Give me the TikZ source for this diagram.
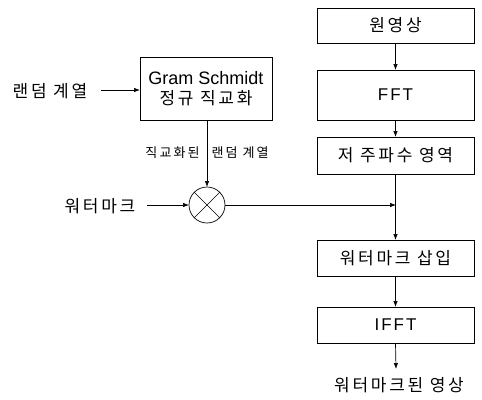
\documentclass[tikz,border=0pt]{standalone}
\usepackage{fontspec}
\setmainfont{Liberation Sans}
\newfontfamily\kr[LetterSpace=16]{Noto Sans CJK KR}
\newfontfamily\lsp[LetterSpace=12]{Liberation Sans}
\usetikzlibrary{arrows.meta}
\begin{document}
\begin{tikzpicture}[x=1pt,y=-1pt,
  box/.style={draw,line width=0.8pt,rectangle,inner sep=0pt,outer sep=0pt,minimum width=157pt},
  krt/.style={inner sep=0pt,font=\kr\fontsize{17}{19}\selectfont},
  ent/.style={inner sep=0pt,font=\lsp\fontsize{17}{19}\selectfont},
  arr/.style={line width=0.7pt,-{Latex[length=6pt,width=4.5pt]}}]
\useasboundingbox (0,0) rectangle (482,399);
\node[box,krt,minimum height=35pt] (b1) at (395.5,25.5) {원영상};
\node[box,ent,minimum height=50pt] (b2) at (395.5,95) {FFT};
\node[box,krt,minimum height=37pt] (b3) at (395.5,155.5) {저 주파수 영역};
\node[box,krt,minimum height=36pt] (b4) at (395.5,258) {워터마크 삽입};
\node[box,ent,minimum height=36pt] (b5) at (395.5,325) {IFFT};
\node[box,minimum width=132pt,minimum height=63pt] (gs) at (206,88.5) {};
\node[inner sep=0pt,font=\fontsize{18}{20}\selectfont] (gs1) at (206,78) {Gram Schmidt};
\node[krt] (gs2) at (206,98) {정규 직교화};
\node[draw,line width=0.7pt,circle,minimum size=36pt,inner sep=0pt,outer sep=0pt] (mul) at (207,205) {};
\draw[line width=0.5pt] (mul.45) -- (mul.225) (mul.135) -- (mul.315);
\node[krt] (rnd) at (50,91) {랜덤 계열};
\node[krt] (wm) at (100,206) {워터마크};
\node[inner sep=0pt,font=\kr\fontsize{13}{15}\selectfont] (olbl) at (207,153) {직교화된\hspace{12pt}랜덤 계열};
\node[krt] (out) at (399,385) {워터마크된 영상};
\coordinate (rs) at (101,90);
\coordinate (ws) at (147,205);
\coordinate (j) at (396,205);
\coordinate (o) at (396,369);
\draw[arr] (rs) -- (rs -| gs.west);
\draw[arr] (ws) -- (mul.west);
\draw[arr] (gs.south -| mul.north) -- (mul.north);
\draw[arr] (mul.east) -- (j);
\draw[arr] (b1.south) -- (b2.north);
\draw[arr] (b2.south) -- (b3.north);
\draw[arr] (b3.south) -- (b4.north);
\draw[arr] (b4.south) -- (b5.north);
\draw[arr] (b5.south) -- (o);
\end{tikzpicture}
\end{document}
